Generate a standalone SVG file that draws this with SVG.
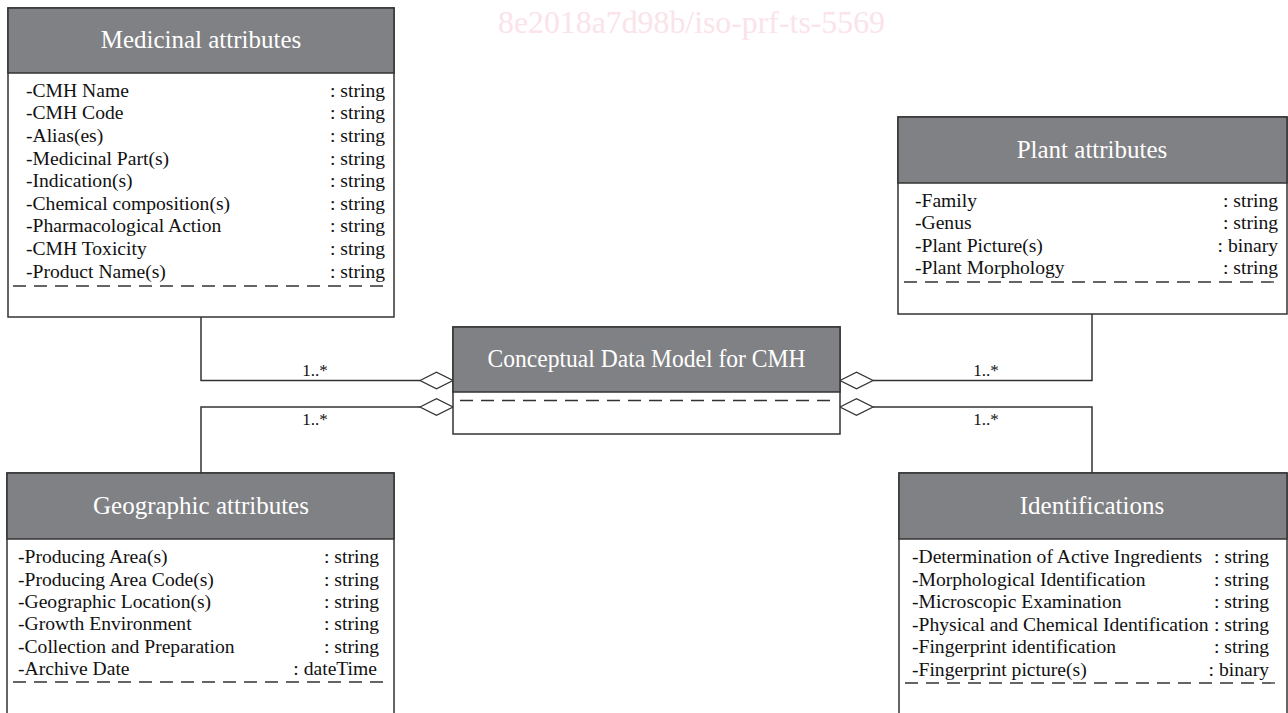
<svg xmlns="http://www.w3.org/2000/svg" width="1288" height="713" viewBox="0 0 1288 713">
<style>
.box{fill:#ffffff;stroke:#333333;stroke-width:1.5}
.hdr{fill:#808184;stroke:#333333;stroke-width:1.5}
.title{font-family:"Liberation Serif",serif;font-size:25px;fill:#ffffff;text-anchor:middle}
.attr{font-family:"Liberation Serif",serif;font-size:19.6px;fill:#111111}
.typ{font-family:"Liberation Serif",serif;font-size:19.6px;fill:#111111;text-anchor:end}
.dash{stroke:#333333;stroke-width:1.3;stroke-dasharray:13 8;fill:none}
.conn{stroke:#333333;stroke-width:1.5;fill:none}
.dia{fill:#ffffff;stroke:#333333;stroke-width:1.3}
.mult{font-family:"Liberation Serif",serif;font-size:17px;fill:#111111;text-anchor:middle}
.wm{font-family:"Liberation Serif",serif;font-size:31px;fill:#fbe3ea}
</style>
<text class="wm" x="498" y="33" textLength="387" lengthAdjust="spacingAndGlyphs">8e2018a7d98b/iso-prf-ts-5569</text>

<g id="connectors">
<polyline class="conn" points="201,317 201,380.5 420,380.5"/>
<polyline class="conn" points="201,475 201,407 420,407"/>
<polyline class="conn" points="1092,314 1092,380.5 873,380.5"/>
<polyline class="conn" points="1092,475 1092,407 873,407"/>
<polygon class="dia" points="420,380.5 436.5,372.2 453,380.5 436.5,388.8"/>
<polygon class="dia" points="420,407 436.5,398.7 453,407 436.5,415.3"/>
<polygon class="dia" points="840,380.5 856.5,372.2 873,380.5 856.5,388.8"/>
<polygon class="dia" points="840,407 856.5,398.7 873,407 856.5,415.3"/>
<text class="mult" x="315" y="376">1..*</text>
<text class="mult" x="315" y="425">1..*</text>
<text class="mult" x="986" y="376">1..*</text>
<text class="mult" x="986" y="425">1..*</text>
</g>

<g id="medicinal">
<rect class="box" x="8" y="8" width="386" height="309"/>
<rect class="hdr" x="8" y="8" width="386" height="65"/>
<text class="title" x="201" y="48">Medicinal attributes</text>
<text class="attr" x="26" y="96.7">-CMH Name</text><text class="typ" x="385" y="96.7">: string</text>
<text class="attr" x="26" y="119.3">-CMH Code</text><text class="typ" x="385" y="119.3">: string</text>
<text class="attr" x="26" y="141.9">-Alias(es)</text><text class="typ" x="385" y="141.9">: string</text>
<text class="attr" x="26" y="164.5">-Medicinal Part(s)</text><text class="typ" x="385" y="164.5">: string</text>
<text class="attr" x="26" y="187.1">-Indication(s)</text><text class="typ" x="385" y="187.1">: string</text>
<text class="attr" x="26" y="209.7">-Chemical composition(s)</text><text class="typ" x="385" y="209.7">: string</text>
<text class="attr" x="26" y="232.3">-Pharmacological Action</text><text class="typ" x="385" y="232.3">: string</text>
<text class="attr" x="26" y="254.9">-CMH Toxicity</text><text class="typ" x="385" y="254.9">: string</text>
<text class="attr" x="26" y="277.5">-Product Name(s)</text><text class="typ" x="385" y="277.5">: string</text>
<line class="dash" x1="13" y1="286" x2="388" y2="286"/>
</g>

<g id="plant">
<rect class="box" x="898" y="117" width="389" height="197"/>
<rect class="hdr" x="898" y="117" width="389" height="66"/>
<text class="title" x="1092" y="158">Plant attributes</text>
<text class="attr" x="915" y="206.7">-Family</text><text class="typ" x="1278" y="206.7">: string</text>
<text class="attr" x="915" y="229.1">-Genus</text><text class="typ" x="1278" y="229.1">: string</text>
<text class="attr" x="915" y="251.5">-Plant Picture(s)</text><text class="typ" x="1278" y="251.5">: binary</text>
<text class="attr" x="915" y="274">-Plant Morphology</text><text class="typ" x="1278" y="274">: string</text>
<line class="dash" x1="904" y1="282" x2="1282" y2="282"/>
</g>

<g id="cdm">
<rect class="box" x="453" y="327" width="387" height="107"/>
<rect class="hdr" x="453" y="327" width="387" height="65"/>
<text class="title" x="646.5" y="367" font-size="25" textLength="318" lengthAdjust="spacingAndGlyphs">Conceptual Data Model for CMH</text>
<line class="dash" x1="460" y1="400.5" x2="834" y2="400.5"/>
</g>

<g id="geographic">
<rect class="box" x="7" y="473" width="387" height="260"/>
<rect class="hdr" x="7" y="473" width="387" height="66"/>
<text class="title" x="201" y="514">Geographic attributes</text>
<text class="attr" x="18" y="563.3">-Producing Area(s)</text><text class="typ" x="379" y="563.3">: string</text>
<text class="attr" x="18" y="585.6">-Producing Area Code(s)</text><text class="typ" x="379" y="585.6">: string</text>
<text class="attr" x="18" y="607.9">-Geographic Location(s)</text><text class="typ" x="379" y="607.9">: string</text>
<text class="attr" x="18" y="630.2">-Growth Environment</text><text class="typ" x="379" y="630.2">: string</text>
<text class="attr" x="18" y="652.5">-Collection and Preparation</text><text class="typ" x="379" y="652.5">: string</text>
<text class="attr" x="18" y="674.8">-Archive Date</text><text class="typ" x="377" y="674.8">: dateTime</text>
<line class="dash" x1="13" y1="682" x2="388" y2="682"/>
</g>

<g id="identifications">
<rect class="box" x="899" y="473" width="388" height="260"/>
<rect class="hdr" x="899" y="473" width="388" height="66"/>
<text class="title" x="1092" y="514">Identifications</text>
<text class="attr" x="912" y="563.3">-Determination of Active Ingredients</text><text class="typ" x="1269" y="563.3">: string</text>
<text class="attr" x="912" y="585.8">-Morphological Identification</text><text class="typ" x="1269" y="585.8">: string</text>
<text class="attr" x="912" y="608.3">-Microscopic Examination</text><text class="typ" x="1269" y="608.3">: string</text>
<text class="attr" x="912" y="630.8">-Physical and Chemical Identification</text><text class="typ" x="1269" y="630.8">: string</text>
<text class="attr" x="912" y="653.3">-Fingerprint identification</text><text class="typ" x="1269" y="653.3">: string</text>
<text class="attr" x="912" y="675.8">-Fingerprint picture(s)</text><text class="typ" x="1269" y="675.8">: binary</text>
<line class="dash" x1="905" y1="683" x2="1281" y2="683"/>
</g>
</svg>
